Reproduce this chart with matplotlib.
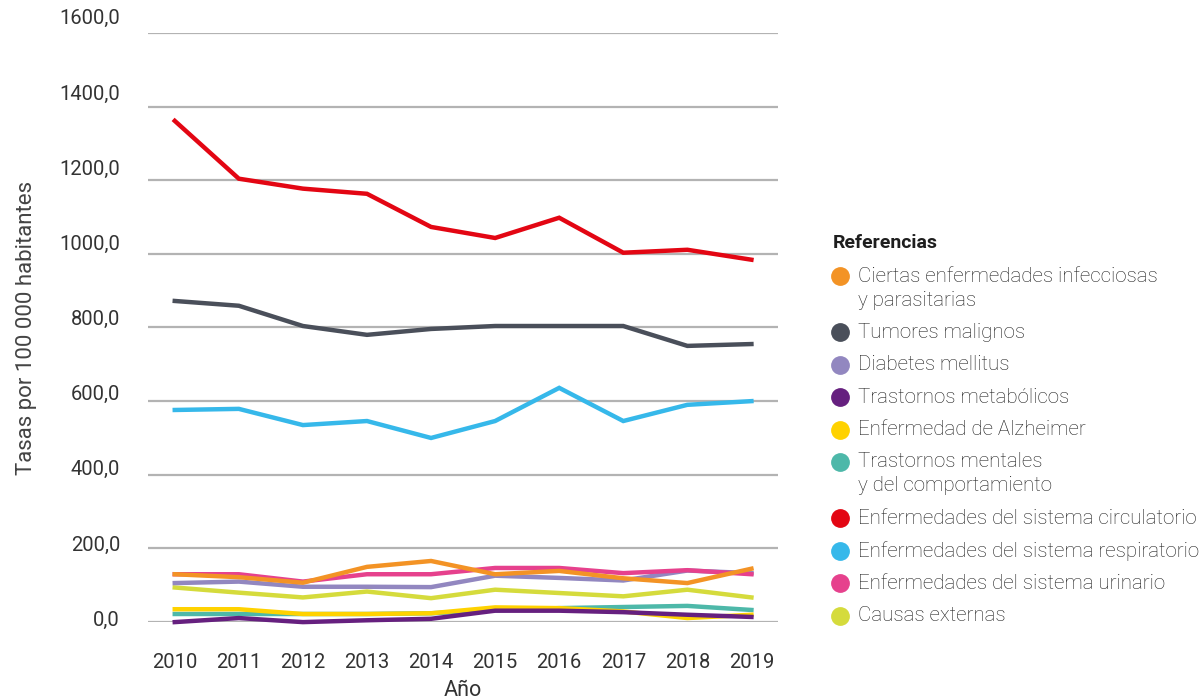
import matplotlib.pyplot as plt
import matplotlib.transforms as mtransforms

plt.rcParams['font.family'] = ['Roboto', 'DejaVu Sans']

# Data
years = [2010, 2011, 2012, 2013, 2014, 2015, 2016, 2017, 2018, 2019]

infecciosas = [130, 122, 107, 150, 166, 130, 139, 119, 106, 145]
tumores = [872, 859, 804, 780, 796, 804, 804, 804, 750, 755]
diabetes = [106, 110, 96, 96, 95, 126, 120, 113, 140, 133]
metabolicos = [0, 11, 0, 5, 9, 31, 31, 27, 20, 14]
alzheimer = [35, 35, 22, 22, 24, 40, 38, 29, 11, 20]
mentales = [22, 22, 22, 22, 24, 32, 38, 41, 44, 33]
circulatorio = [1361, 1204, 1177, 1163, 1073, 1043, 1098, 1003, 1011, 984]
respiratorio = [576, 579, 535, 546, 500, 546, 636, 546, 590, 600]
urinario = [130, 130, 110, 130, 130, 147, 147, 133, 141, 130]
externas = [94, 80, 67, 83, 65, 88, 79, 70, 88, 67]

labels = [
    "Ciertas enfermedades infecciosas\ny parasitarias",
    "Tumores malignos",
    "Diabetes mellitus",
    "Trastornos metabólicos",
    "Enfermedad de Alzheimer",
    "Trastornos mentales\ny del comportamiento",
    "Enfermedades del sistema circulatorio",
    "Enfermedades del sistema respiratorio",
    "Enfermedades del sistema urinario",
    "Causas externas",
]
series = [infecciosas, tumores, diabetes, metabolicos, alzheimer, mentales,
          circulatorio, respiratorio, urinario, externas]
colors = ["#f39325", "#4a4f5a", "#9287c0", "#66207f", "#ffd200",
          "#4db8a9", "#e30613", "#36b8ea", "#e6418d", "#d5db3c"]

yticks = [0, 200, 400, 600, 800, 1000, 1200, 1400, 1600]

TXT = "#1e1e1e"
AX_TXT = "#333333"

fig = plt.figure(figsize=(12.02, 6.99), dpi=100)
ax = fig.add_axes([0.123, 0.110, 0.524, 0.843])

for y in yticks:
    ax.axhline(y, color="#b3b3b3", lw=1.6, zorder=1)

# draw order: bottom lines first
order = [5, 4, 3, 9, 2, 8, 0, 7, 1, 6]
for i in order:
    ax.plot(years, series[i], color=colors[i], lw=3.2, zorder=3,
            solid_joinstyle="miter", clip_on=False)

ax.set_xlim(2009.58, 2019.41)
ax.set_ylim(0, 1600)
ax.set_xticks(years)
ax.set_xticklabels([str(y) for y in years])
ax.set_yticks(yticks)
ax.set_yticklabels([f"{y},0" for y in yticks])
ax.tick_params(length=0, labelsize=14.5, labelcolor=AX_TXT)
ax.tick_params(axis="x", pad=22)
ax.tick_params(axis="y", pad=20)
# y labels sit a little above their gridlines, more so near the top
for lab, v in zip(ax.get_yticklabels(), yticks):
    lab.set_verticalalignment("center")
    off = 2 + 12 * v / 1600
    lab.set_transform(lab.get_transform() +
                      mtransforms.ScaledTranslation(0, off / 100, fig.dpi_scale_trans))
for s in ax.spines.values():
    s.set_visible(False)

ax.set_xlabel("Año", fontsize=15.5, color=AX_TXT, labelpad=6)
ax.set_ylabel("Tasas por 100 000 habitantes", fontsize=16, color="#444444",
              labelpad=16)

# legend drawn in pixel coordinates
lg = fig.add_axes([0, 0, 1, 1], zorder=-1)
lg.set_xlim(0, 1202)
lg.set_ylim(699, 0)
lg.axis("off")
lg.text(833, 243, "Referencias", fontsize=14, fontweight="bold", color=TXT,
        va="center", ha="left")
yy = 276
for lab, c in zip(labels, colors):
    lg.plot([840], [yy], marker="o", ms=12.5, color=c, ls="none")
    for k, line in enumerate(lab.split("\n")):
        lg.text(858, yy + k * 24, line, fontsize=14.8, fontweight="light",
                color=TXT, va="center", ha="left")
        if k > 0:
            yy += 24
    yy += 32.4

fig.savefig("out.png", dpi=100)
